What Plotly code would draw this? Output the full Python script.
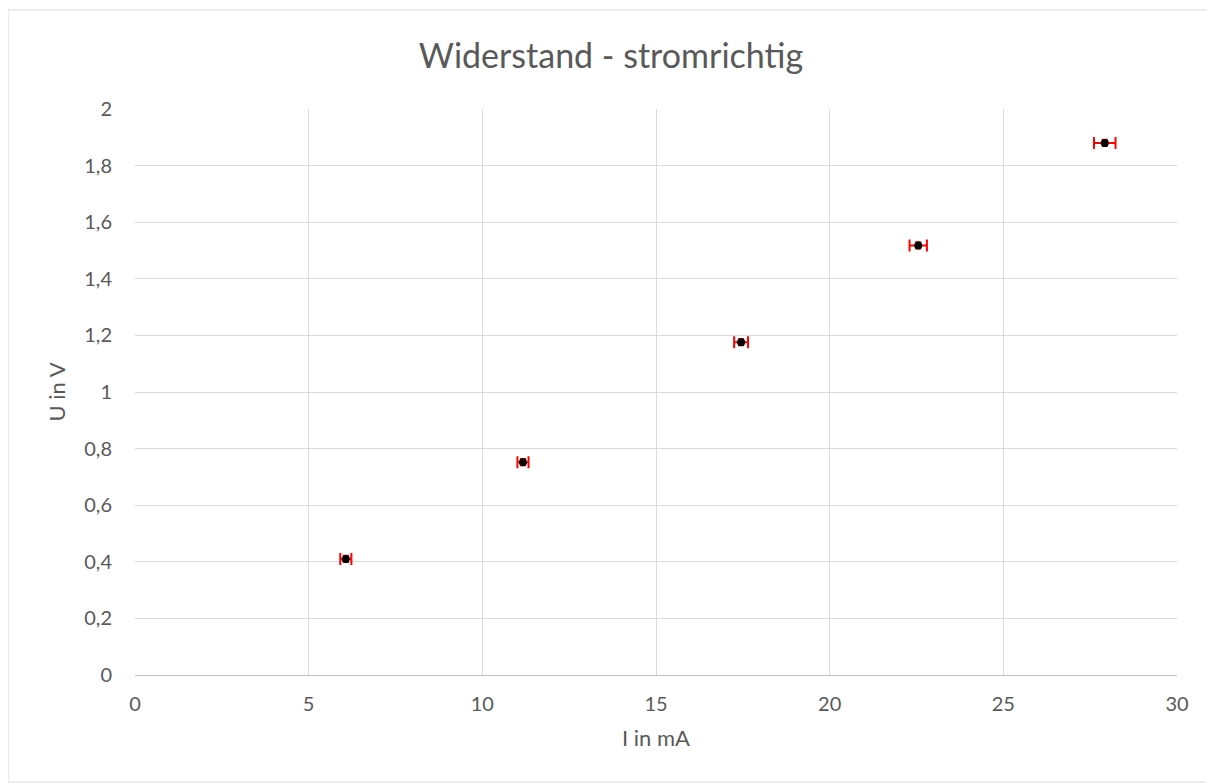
import plotly.graph_objects as go

current_mA = [6.07, 11.17, 17.45, 22.55, 27.92]
voltage_V = [0.41, 0.752, 1.176, 1.518, 1.880]
err_current_mA = [0.16, 0.16, 0.2, 0.25, 0.31]
err_voltage_V = [0.012, 0.012, 0.012, 0.012, 0.012]

title_text = "Widerstand - stromrichtig"
x_title = "I in mA"
y_title = "U in V"

# page adds an 8px body margin, so the figure is drawn 8px smaller and offset
W, H = 1206, 775
L, T = 127, 101
R, B = W - 1169, H - 667
pw, ph = W - L - R, H - T - B

fig = go.Figure()
fig.add_trace(go.Scatter(
    x=current_mA, y=voltage_V, mode="markers",
    marker=dict(color="black", size=8),
    error_x=dict(type="data", array=err_current_mA, color="#ff0000", thickness=2, width=6),
    error_y=dict(type="data", array=err_voltage_V, color="#ff0000", thickness=1.5, width=3),
    showlegend=False,
))

font = "Lato, 'Open Sans', sans-serif"
fig.update_layout(
    width=W, height=H,
    margin=dict(l=L, r=R, t=T, b=B),
    paper_bgcolor="white", plot_bgcolor="white",
    separators=",.",
    font=dict(family=font, color="#595959", size=20),
    title=dict(text=title_text, x=0.5, xanchor="center", xref="container",
               y=1 - 48 / H, yref="container", yanchor="middle",
               font=dict(size=34, color="#595959", family=font)),
    xaxis=dict(range=[0, 30], tickvals=[0, 5, 10, 15, 20, 25, 30], showgrid=True,
               gridcolor="#d9d9d9", gridwidth=1, zeroline=False, showline=True,
               linecolor="#bfbfbf", linewidth=1, ticks="", ticklabelstandoff=11,
               title=dict(text=x_title, standoff=16, font=dict(size=22))),
    yaxis=dict(range=[0, 2], dtick=0.2, showgrid=True, gridcolor="#d9d9d9", gridwidth=1,
               zeroline=False, showline=False, ticks="", ticklabelstandoff=22,
               title=dict(text=y_title, standoff=12, font=dict(size=22))),
    shapes=[dict(type="rect", xref="paper", yref="paper",
                 x0=(0 - L) / pw, x1=(1205 - L) / pw,
                 y0=(T + ph - 774) / ph, y1=1 + (T - 2) / ph,
                 line=dict(color="#d9d9d9", width=1), fillcolor="rgba(0,0,0,0)", layer="below")],
)

fig.write_html("out.html")
